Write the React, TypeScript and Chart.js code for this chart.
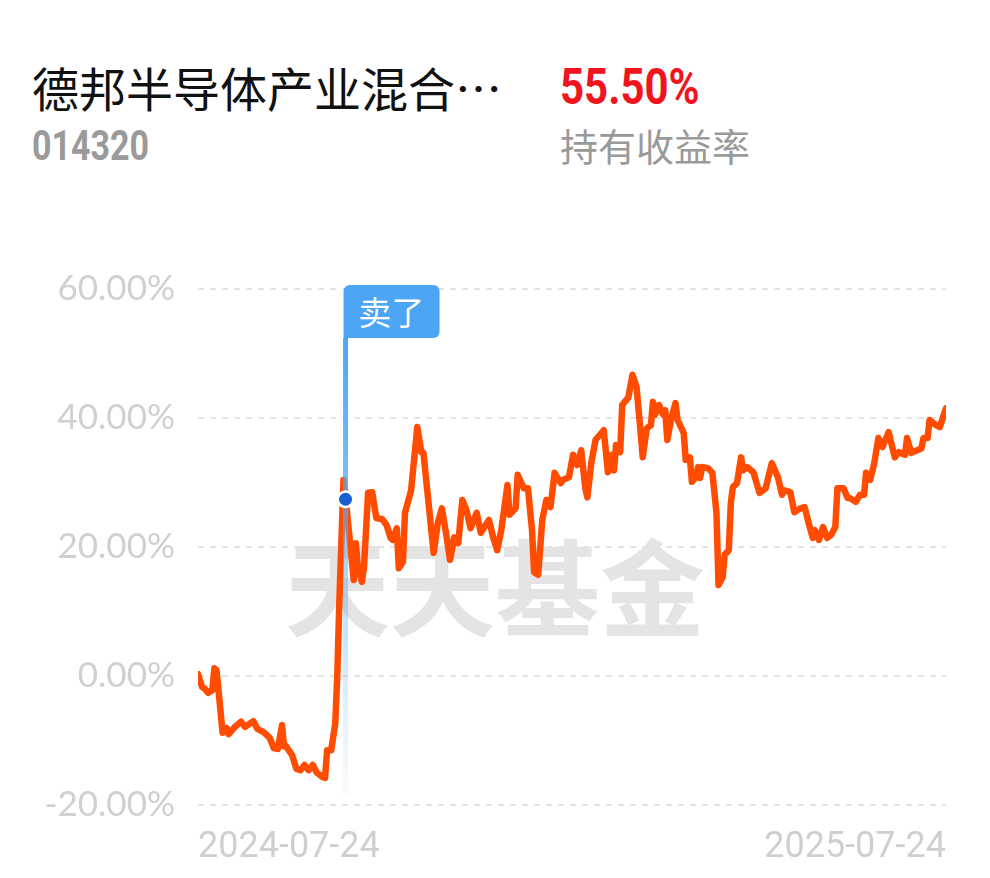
import React, { useEffect, useRef } from "react";
import { Chart, registerables } from "chart.js";

Chart.register(...registerables);

// ---- data ----
const fundName = "德邦半导体产业混合…";
const fundCode = "014320";
const holdingReturn = "55.50%";
const holdingReturnLabel = "持有收益率";
const watermarkText = "天天基金";
const sellLabel = "卖了";

// days since 2024-07-24
const days = [
  0, 2, 3, 5, 7, 8, 9, 10, 12, 14, 15, 18, 21, 23, 27, 29, 32, 35, 37, 39, 41, 42, 43, 46, 48, 50,
  52, 54, 56, 58, 61, 62, 63, 65, 67, 68, 69, 71, 72, 76, 77, 78, 80, 81, 83, 85, 87, 90, 92, 94,
  95, 97, 98, 100, 101, 104, 107, 109, 110, 115, 117, 119, 121, 123, 125, 127, 129, 131, 133, 136,
  138, 142, 144, 146, 148, 151, 152, 155, 156, 159, 161, 163, 164, 166, 168, 170, 172, 174, 177,
  178, 181, 183, 185, 187, 189, 190, 192, 194, 198, 200, 202, 203, 204, 206, 207, 210, 212, 214,
  216, 217, 219, 221, 222, 223, 225, 227, 228, 229, 231, 233, 234, 237, 238, 240, 241, 243, 244,
  245, 246, 249, 251, 253, 254, 256, 257, 259, 260, 261, 263, 265, 266, 268, 271, 274, 277, 280,
  283, 285, 286, 289, 291, 294, 296, 298, 300, 301, 303, 305, 307, 309, 311, 312, 315, 317, 318,
  321, 323, 325, 326, 328, 330, 332, 334, 337, 340, 342, 345, 346, 348, 351, 353, 354, 356, 357,
  360, 362, 365,
];

// holding return, %
const returns = [
  0.3, -1.7, -1.9, -2.6, -2.2, 1.2, 0.9, -2.2, -8.8, -8.1, -9.0, -7.9, -7.1, -7.9, -7.0, -8.2, -8.7,
  -9.6, -11.2, -11.3, -7.6, -10.9, -10.9, -12.3, -14.4, -14.6, -13.8, -14.6, -13.8, -15.0, -15.7,
  -15.8, -11.5, -11.5, -7.3, 0.5, 11.8, 30.4, 27.6, 14.9, 20.6, 16.9, 14.6, 16.9, 28.4, 28.5, 24.5,
  24.3, 23.4, 21.4, 21.1, 22.9, 16.7, 17.7, 25.3, 28.8, 38.6, 34.7, 34.6, 19.1, 23.7, 26.0, 22.2,
  18.0, 21.5, 20.6, 27.3, 25.7, 22.9, 25.3, 22.2, 24.2, 21.5, 19.5, 22.6, 29.6, 25.0, 26.0, 31.2,
  29.1, 29.1, 22.6, 16.1, 15.7, 24.2, 27.3, 26.2, 31.5, 29.9, 30.4, 30.8, 34.3, 32.7, 35.0, 29.1,
  27.7, 33.2, 36.6, 38.1, 31.6, 34.3, 31.9, 35.8, 34.7, 42.0, 43.2, 46.7, 44.8, 37.7, 33.9, 38.4,
  38.9, 42.5, 40.5, 42.0, 40.5, 41.2, 36.6, 40.0, 42.3, 39.7, 37.7, 33.5, 33.9, 30.1, 30.8, 32.4,
  30.7, 32.4, 32.2, 31.5, 25.3, 14.1, 15.3, 18.8, 19.5, 26.8, 29.3, 29.9, 33.9, 31.9, 32.4, 31.6,
  28.4, 29.1, 33.0, 30.8, 28.1, 28.8, 28.5, 25.4, 26.0, 26.2, 23.7, 21.4, 22.6, 21.1, 23.1, 21.4,
  21.9, 23.1, 29.1, 29.1, 27.6, 27.6, 27.0, 28.1, 28.1, 31.5, 30.4, 33.0, 36.9, 35.5, 37.8, 33.9,
  34.7, 34.3, 36.9, 34.6, 35.0, 35.3, 36.9, 36.9, 39.7, 38.9, 38.6, 41.5,
];

const sellDay = 72;
const sellReturn = 27.4;

const xTickDays = [0, 365];
const xTickLabels = ["2024-07-24", "2025-07-24"];
const yTicks = [-20, 0, 20, 40, 60];

const LINE_COLOR = "#ff4c00";
const BLUE = "#4da6f5";

const watermarkPlugin = {
  id: "watermark",
  beforeDatasetsDraw(chart: any) {
    const { ctx, chartArea } = chart;
    ctx.save();
    ctx.font = "700 105px 'Noto Sans CJK SC'";
    ctx.fillStyle = "#e4e4e4";
    ctx.textAlign = "center";
    ctx.textBaseline = "middle";
    const cx = chart.width / 2;
    const cy = chartArea.top + (chartArea.bottom - chartArea.top) * 0.58;
    ctx.fillText(watermarkText, cx, cy);
    ctx.restore();
  },
  afterDatasetsDraw(chart: any) {
    const { ctx, chartArea } = chart;
    const xs = chart.scales.x;
    const ys = chart.scales.y;
    const x = xs.getPixelForValue(sellDay);
    const left = x - 2;
    const w = 96;
    const top = chartArea.top - 4;
    const h = 53;
    const r = 6;
    ctx.save();

    // sell marker pole (over the line, fading)
    const pTop = top + h;
    const pBottom = chartArea.bottom - 10;
    const g = ctx.createLinearGradient(0, pTop, 0, pBottom);
    g.addColorStop(0, "rgba(77,166,245,1)");
    g.addColorStop(0.3, "rgba(77,166,245,0.75)");
    g.addColorStop(0.6, "rgba(120,185,245,0.45)");
    g.addColorStop(1, "rgba(150,200,245,0.05)");
    ctx.fillStyle = g;
    ctx.fillRect(x - 2.5, pTop, 5, pBottom - pTop);

    ctx.fillStyle = BLUE;
    ctx.beginPath();
    ctx.moveTo(left, top + r);
    ctx.arcTo(left, top, left + r, top, r);
    ctx.lineTo(left + w - r, top);
    ctx.arcTo(left + w, top, left + w, top + r, r);
    ctx.lineTo(left + w, top + h - r);
    ctx.arcTo(left + w, top + h, left + w - r, top + h, r);
    ctx.lineTo(left, top + h);
    ctx.closePath();
    ctx.fill();
    ctx.fillStyle = "#ffffff";
    ctx.font = "33px 'Noto Sans CJK SC'";
    ctx.textAlign = "center";
    ctx.textBaseline = "middle";
    ctx.fillText(sellLabel, left + w / 2, top + h / 2 + 1);

    // sell point dot
    const py = ys.getPixelForValue(sellReturn);
    ctx.beginPath();
    ctx.arc(x, py, 9, 0, Math.PI * 2);
    ctx.fillStyle = "#ffffff";
    ctx.fill();
    ctx.beginPath();
    ctx.arc(x, py, 6.5, 0, Math.PI * 2);
    ctx.fillStyle = "#1a5fd2";
    ctx.fill();
    ctx.restore();
  },
};

export default function App() {
  const canvasRef = useRef<HTMLCanvasElement | null>(null);

  useEffect(() => {
    const canvas = canvasRef.current;
    if (!canvas) return;
    const lineData = days.map((d, i) => ({ x: d, y: returns[i] }));
    const chart = new Chart(canvas, {
      type: "line",
      data: {
        datasets: [
          {
            data: lineData,
            borderColor: LINE_COLOR,
            borderWidth: 6.5,
            pointRadius: 0,
            tension: 0,
            borderJoinStyle: "round",
            borderCapStyle: "round",
            fill: false,
          },
        ],
      },
      options: {
        responsive: false,
        animation: false,
        events: [],
        layout: { padding: { left: 0, right: 44, top: 49, bottom: 0 } },
        plugins: { legend: { display: false }, tooltip: { enabled: false } },
        scales: {
          x: {
            type: "linear",
            min: xTickDays[0],
            max: xTickDays[xTickDays.length - 1],
            afterBuildTicks: (scale: any) => {
              scale.ticks = xTickDays.map((v) => ({ value: v }));
            },
            afterFit: (scale: any) => {
              scale.height = 73;
            },
            grid: { display: false, drawTicks: false },
            border: { display: false },
            ticks: {
              align: "inner",
              maxRotation: 0,
              padding: 21,
              color: "#cfcfcf",
              font: { family: "Roboto", size: 36 },
              callback: (v: any) => {
                const i = xTickDays.indexOf(Number(v));
                return i >= 0 ? xTickLabels[i] : "";
              },
            },
          },
          y: {
            min: yTicks[0],
            max: yTicks[yTicks.length - 1],
            afterBuildTicks: (scale: any) => {
              scale.ticks = yTicks.map((v) => ({ value: v }));
            },
            afterFit: (scale: any) => {
              scale.width = 198;
            },
            grid: {
              color: "#e4e4e4",
              lineWidth: 2,
              drawTicks: false,
            },
            border: { display: false, dash: [6, 6] },
            ticks: {
              padding: 23,
              color: "#d0d0d0",
              font: { family: "Lato", size: 35 },
              callback: (v: any) => Number(v).toFixed(2) + "%",
            },
          },
        },
      },
      plugins: [watermarkPlugin],
    } as any);
    return () => chart.destroy();
  }, []);

  const base: React.CSSProperties = { position: "absolute", whiteSpace: "nowrap", margin: 0 };

  return (
    <div
      style={{
        position: "fixed",
        left: 0,
        top: 0,
        width: 990,
        height: 878,
        background: "#ffffff",
        overflow: "hidden",
      }}
    >
      <div
        style={{
          ...base,
          left: 32,
          top: 63,
          fontFamily: "'Noto Sans CJK SC'",
          fontSize: 47,
          lineHeight: "47px",
          color: "#111111",
        }}
      >
        {fundName}
      </div>
      <div
        style={{
          ...base,
          left: 560,
          top: 62,
          fontFamily: "Roboto",
          fontWeight: 700,
          fontSize: 50,
          lineHeight: "50px",
          color: "#f0141e",
          transform: "scaleX(0.84)",
          transformOrigin: "left center",
        }}
      >
        {holdingReturn}
      </div>
      <div
        style={{
          ...base,
          left: 32,
          top: 125,
          fontFamily: "Roboto",
          fontWeight: 700,
          fontSize: 42,
          lineHeight: "42px",
          color: "#9a9a9a",
          transform: "scaleX(0.81)",
          transformOrigin: "left center",
        }}
      >
        {fundCode}
      </div>
      <div
        style={{
          ...base,
          left: 560,
          top: 126,
          fontFamily: "'Noto Sans CJK SC'",
          fontSize: 38,
          lineHeight: "38px",
          color: "#9a9a9a",
        }}
      >
        {holdingReturnLabel}
      </div>
      <canvas
        ref={canvasRef}
        width={990}
        height={638}
        style={{ position: "absolute", left: 0, top: 240, width: 990, height: 638 }}
      />
    </div>
  );
}
